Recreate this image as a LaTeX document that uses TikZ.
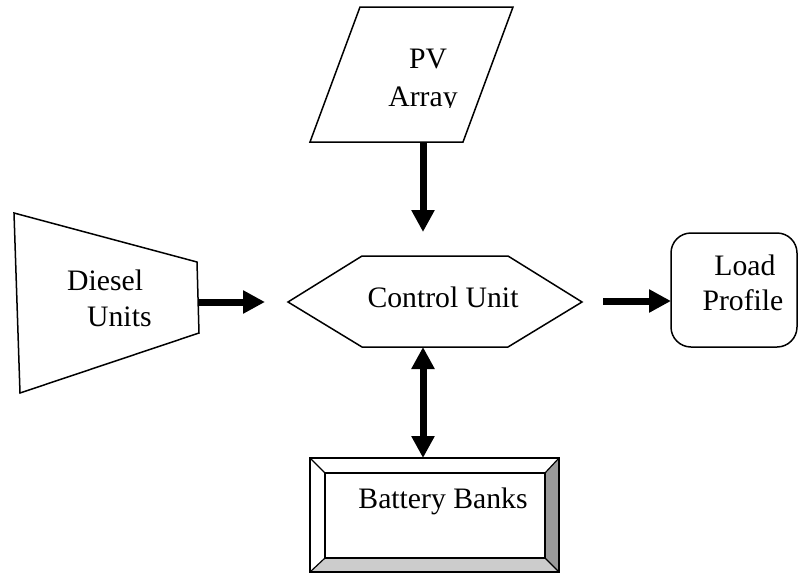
\documentclass[tikz,border=0pt]{standalone}
\usepackage{fontspec}
\setmainfont{Liberation Serif}
\usetikzlibrary{arrows.meta}
\tikzset{
  shapeline/.style={draw=black, line width=1.5pt, line join=miter},
  txt/.style={anchor=base, inner sep=0pt, font=\fontsize{29.7}{34}\selectfont},
  flow/.style={line width=7pt, -{Triangle[length=22pt,width=22pt]}},
  flowboth/.style={line width=7pt, {Triangle[length=22pt,width=22pt]}-{Triangle[length=22pt,width=22pt]}}
}
\begin{document}
\begin{tikzpicture}[x=1pt,y=-1pt]
\useasboundingbox (0,0) rectangle (798,573);
% PV array (parallelogram)
\draw[shapeline] (360,7) -- (513,7) -- (463,142) -- (310,142) -- cycle;
\node[txt] (pv1) at (428,68) {PV};
\begin{scope}
  \clip (300,0) rectangle (520,107);
  \node[txt] (pv2) at (423,106) {Array};
\end{scope}
\coordinate (pvb) at (423,142);
% Diesel units (trapezoid)
\draw[shapeline] (14,213) -- (197,262) -- (199,333) -- (20,393) -- cycle;
\node[txt, anchor=base west] (d1) at (67,290) {Diesel};
\node[txt, anchor=base west] (d2) at (87,326) {Units};
\coordinate (dr) at (199,302);
% Control unit (hexagon)
\draw[shapeline] (362,256) -- (508,256) -- (582,302) -- (508,347) -- (362,347) -- (288,302) -- cycle;
\node[txt] (cu) at (443,307) {Control Unit};
\coordinate (cut) at (423,232);
\coordinate (cul) at (265,302);
\coordinate (cur) at (603,301);
\coordinate (cub) at (423,347);
% Load profile (rounded rectangle)
\draw[shapeline, rounded corners=20pt] (671,233) rectangle (797,347);
\node[txt] (l1) at (745,275) {Load};
\node[txt] (l2) at (743,310) {Profile};
\coordinate (ll) at (671,301);
% Battery banks (bevel)
\fill[black!40] (545,473) -- (559,458) -- (559,572) -- (545,558) -- cycle;
\fill[black!20] (325,558) -- (545,558) -- (559,572) -- (310,572) -- cycle;
\draw[shapeline] (310,458) rectangle (559,572);
\draw[shapeline] (325,473) rectangle (545,558);
\draw[line width=1.2pt] (310,458) -- (325,473) (559,458) -- (545,473) (559,572) -- (545,558) (310,572) -- (325,558);
\node[txt] (bb) at (443,508) {Battery Banks};
\coordinate (bt) at (423,458);
% Connectors
\draw[flow] (pvb) -- (cut);
\draw[flow] (dr) -- (cul);
\draw[flow] (cur) -- (ll);
\draw[flowboth] (cub) -- (bt);
\end{tikzpicture}
\end{document}
